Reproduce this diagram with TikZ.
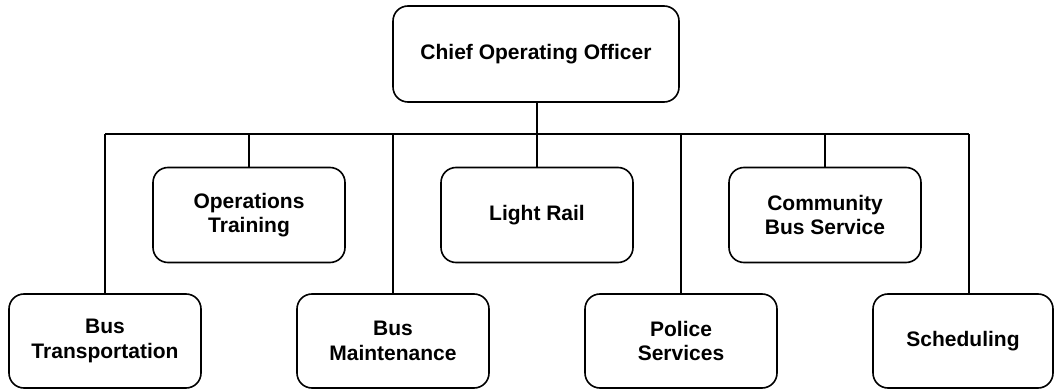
\documentclass[tikz,border=0pt]{standalone}
\usepackage{fontspec}
\setmainfont{Liberation Sans}
\begin{document}
\begin{tikzpicture}[x=1pt,y=-1pt,
  unit/.style={draw, line width=1.6pt, rounded corners=15pt, minimum width=192pt, minimum height=95pt, align=center, font=\fontsize{21}{24.5}\selectfont\bfseries, inner sep=0pt},
  conn/.style={line width=1.6pt}]
\useasboundingbox (0,0) rectangle (1055,390);
\node[unit, minimum width=286pt, minimum height=96pt] (coo) at (536,54) {Chief Operating Officer};
\node[unit] (ot) at (249,215) {Operations\\Training};
\node[unit] (lr) at (537,215) {Light Rail};
\node[unit] (cbs) at (825,215) {Community\\Bus Service};
\node[unit, minimum height=94pt] (bt) at (105,341) {Bus\\Transportation};
\node[unit, minimum height=94pt] (bm) at (393,341) {Bus\\Maintenance};
\node[unit, minimum height=94pt] (ps) at (681,341) {Police\\Services};
\node[unit, minimum height=94pt, minimum width=180pt] (sch) at (963,341) {Scheduling};
\coordinate (bus) at (537,134);
\coordinate (busL) at (105,134);
\coordinate (busR) at (969,134);
\draw[conn] (coo.south -| bus) -- (bus);
\draw[conn] (busL) -- (busR);
\draw[conn] (busL) -- (bt.north);
\draw[conn] (ot.north |- bus) -- (ot.north);
\draw[conn] (bm.north |- bus) -- (bm.north);
\draw[conn] (bus) -- (lr.north);
\draw[conn] (ps.north |- bus) -- (ps.north);
\draw[conn] (cbs.north |- bus) -- (cbs.north);
\draw[conn] (busR) -- (busR |- sch.north);
\end{tikzpicture}
\end{document}
